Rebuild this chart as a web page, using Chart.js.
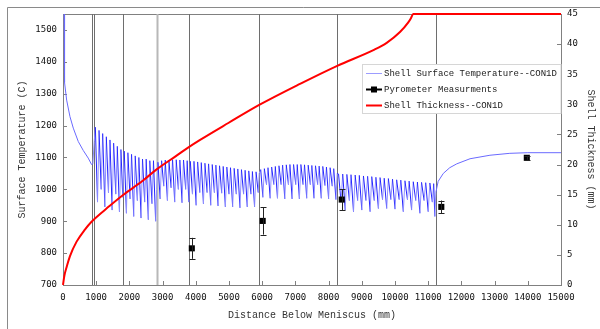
<!DOCTYPE html>
<html>
<head>
<meta charset="utf-8">
<script src="https://cdn.jsdelivr.net/npm/chart.js@4.4.1/dist/chart.umd.min.js"></script>
<style>
  html, body { margin: 0; padding: 0; background: #fff; }
  #wrap { position: relative; width: 600px; height: 329px; }
</style>
</head>
<body>
<div id="wrap"><canvas id="c" width="600" height="329"></canvas></div>
<script>
// ---- data ----
var xTicks = [0, 1000, 2000, 3000, 4000, 5000, 6000, 7000, 8000, 9000, 10000, 11000, 12000, 13000, 14000, 15000];
var tempTicks = [700, 800, 900, 1000, 1100, 1200, 1300, 1400, 1500];
var thickTicks = [0, 5, 10, 15, 20, 25, 30, 35, 40, 45];

// spray zone / roll segment boundaries (mm)
var zoneLines = [860, 940, 1800, 2820, 3790, 5910, 8260, 11230];

// shell surface temperature (CON1D)
var surfDist = [
  35, 38, 44, 58, 110, 210, 310, 460, 610, 760, 860, 900,
  940, 975, 1040, 1085, 1150, 1195, 1260, 1305, 1370, 1415, 1480, 1525, 1590, 1635, 1700, 1745, 1800,
  1845, 1910, 1955, 2020, 2065, 2130, 2175, 2240, 2285, 2350, 2395, 2460, 2505, 2570, 2615, 2680, 2725, 2790, 2820,
  2860, 2925, 2970, 3035, 3080, 3145, 3190, 3255, 3300, 3365, 3410, 3475, 3520, 3585, 3630, 3695, 3740, 3790,
  3835, 3900, 3945, 4010, 4055, 4120, 4165, 4230, 4275, 4340, 4385, 4450, 4495, 4560, 4605, 4670, 4715, 4780,
  4825, 4890, 4935, 5000, 5045, 5110, 5155, 5220, 5265, 5330, 5375, 5440, 5485, 5550, 5595, 5660, 5705, 5770,
  5815, 5880, 5910,
  5955, 6020, 6065, 6130, 6175, 6240, 6285, 6350, 6395, 6460, 6505, 6570, 6615, 6680, 6725, 6790, 6835, 6900,
  6945, 7010, 7055, 7120, 7165, 7230, 7275, 7340, 7385, 7450, 7495, 7560, 7605, 7670, 7715, 7780, 7825, 7890,
  7935, 8000, 8045, 8110, 8155, 8220, 8260,
  8300, 8375, 8425, 8500, 8550, 8625, 8675, 8750, 8800, 8875, 8925, 9000, 9050, 9125, 9175, 9250, 9300, 9375,
  9425, 9500, 9550, 9625, 9675, 9750, 9800, 9875, 9925, 10000, 10050, 10125, 10175, 10250, 10300, 10375,
  10425, 10500, 10550, 10625, 10675, 10750, 10800, 10875, 10925, 11000, 11050, 11125, 11165, 11200, 11230,
  11300, 11455, 11650, 11860, 12260, 12860, 13460, 14000, 15000
];
var surfTemp = [
  1550, 1450, 1380, 1335, 1280, 1228, 1192, 1150, 1122, 1098, 1078, 1080,
  1150, 1195, 960, 1185, 1000, 1175, 945, 1165, 990, 1155, 935, 1145, 985, 1135, 930, 1125, 975,
  1120, 925, 1115, 970, 1110, 915, 1105, 965, 1100, 910, 1095, 960, 1095, 905, 1090, 955, 1090, 900, 1000,
  1085, 970, 1090, 1010, 1092, 965, 1092, 1005, 1093, 960, 1093, 1000, 1092, 958, 1092, 1000, 1090, 960,
  1088, 985, 1088, 950, 1086, 990, 1084, 955, 1082, 990, 1080, 950, 1078, 990, 1076, 948, 1074, 988,
  1072, 945, 1070, 985, 1068, 945, 1066, 985, 1064, 942, 1062, 985, 1060, 945, 1058, 985, 1056, 945,
  1055, 990, 1050,
  1062, 975, 1065, 1015, 1068, 972, 1070, 1015, 1072, 972, 1074, 1015, 1076, 970, 1077, 1015, 1078, 970,
  1078, 1015, 1078, 970, 1078, 1015, 1077, 972, 1076, 1015, 1075, 972, 1074, 1015, 1073, 972, 1072, 1012,
  1070, 970, 1068, 1010, 1065, 968, 1050,
  1048, 960, 1048, 935, 1047, 965, 1046, 930, 1045, 965, 1044, 935, 1042, 965, 1041, 930, 1040, 965,
  1038, 940, 1037, 968, 1035, 940, 1034, 968, 1032, 938, 1030, 968, 1029, 930, 1027, 968,
  1026, 935, 1024, 965, 1023, 925, 1022, 965, 1021, 930, 1020, 960, 1018, 915, 990,
  1025, 1050, 1068, 1080, 1096, 1107, 1113, 1115, 1115
];

// shell thickness (CON1D)
var shellDist  = [0, 10, 40, 110, 210, 410, 660, 860, 1400, 1800, 2400, 2820, 3400, 3790, 4130, 4980, 5910, 7140, 8260, 9350, 9750, 10150, 10400, 10480, 10550, 15000];
var shellThick = [0, 0.4, 1.5, 3.0, 4.8, 7.2, 9.2, 10.5, 13.1, 14.9, 17.3, 19.2, 21.4, 22.9, 24.1, 26.9, 29.9, 33.4, 36.4, 39.0, 40.2, 42.0, 43.6, 44.3, 45, 45];

// pyrometer measurements with error half-range
var pyroDist = [3880, 6015, 8395, 11395, 13970];
var pyroTemp = [815, 901, 968, 945, 1099];
var pyroErr  = [33, 43, 33, 20, 6];

function pairs(xs, ys) {
  return xs.map(function (x, i) { return { x: x, y: ys[i] }; });
}

var MONO = "'Liberation Mono', 'DejaVu Sans Mono', monospace";
var TICKFONT = "'DejaVu Sans Mono', monospace";
var AXIS_GRAY = "#808080";

/* frame, zone lines, inward tick marks, error bars, legend */
var decorPlugin = {
  id: "decor",
  beforeDatasetsDraw: function (chart) {
    var ctx = chart.ctx, a = chart.chartArea;
    var sx = chart.scales.x, sy = chart.scales.y, sy2 = chart.scales.y2;
    ctx.save();
    // outer frame (top + left only)
    ctx.strokeStyle = "#8a8a8a";
    ctx.lineWidth = 1;
    ctx.beginPath();
    ctx.moveTo(7.5, 329); ctx.lineTo(7.5, 7.5); ctx.lineTo(600, 7.5);
    ctx.stroke();
    // plot box
    ctx.strokeStyle = AXIS_GRAY;
    ctx.strokeRect(Math.round(a.left) + 0.5, Math.round(a.top) + 0.5,
      Math.round(a.right - a.left), Math.round(a.bottom - a.top));
    // inward ticks
    ctx.beginPath();
    xTicks.forEach(function (v) {
      var px = Math.round(sx.getPixelForValue(v)) + 0.5;
      ctx.moveTo(px, a.bottom); ctx.lineTo(px, a.bottom - 4);
    });
    tempTicks.forEach(function (v) {
      var py = Math.round(sy.getPixelForValue(v)) + 0.5;
      ctx.moveTo(a.left, py); ctx.lineTo(a.left + 4, py);
    });
    thickTicks.forEach(function (v) {
      var py = Math.round(sy2.getPixelForValue(v)) + 0.5;
      ctx.moveTo(a.right, py); ctx.lineTo(a.right - 4, py);
    });
    ctx.stroke();
    // zone boundaries
    zoneLines.forEach(function (d, i) {
      var px = Math.round(sx.getPixelForValue(d)) + 0.5;
      ctx.strokeStyle = i === 3 ? "#b8b8b8" : "#6e6e6e";
      ctx.lineWidth = i === 3 ? 2 : 1;
      ctx.beginPath();
      ctx.moveTo(px, a.top); ctx.lineTo(px, a.bottom);
      ctx.stroke();
    });
    ctx.restore();
  },
  afterDatasetsDraw: function (chart) {
    var ctx = chart.ctx, a = chart.chartArea;
    var sx = chart.scales.x, sy = chart.scales.y;
    ctx.save();
    // error bars
    ctx.strokeStyle = "#222";
    ctx.lineWidth = 1;
    ctx.beginPath();
    pyroDist.forEach(function (d, i) {
      var px = Math.round(sx.getPixelForValue(d)) + 0.5;
      var top = sy.getPixelForValue(pyroTemp[i] + pyroErr[i]);
      var bot = sy.getPixelForValue(pyroTemp[i] - pyroErr[i]);
      ctx.moveTo(px, top); ctx.lineTo(px, bot);
      ctx.moveTo(px - 3, Math.round(top) + 0.5); ctx.lineTo(px + 3, Math.round(top) + 0.5);
      ctx.moveTo(px - 3, Math.round(bot) + 0.5); ctx.lineTo(px + 3, Math.round(bot) + 0.5);
    });
    ctx.stroke();

    // legend
    var bx = 362.5, by = 64.5, bw = a.right - 362.5, bh = 49;
    ctx.fillStyle = "#fff";
    ctx.fillRect(bx, by, bw, bh);
    ctx.strokeStyle = "#d6d6d6";
    ctx.strokeRect(bx, by, bw, bh);
    ctx.font = "9px " + MONO;
    ctx.textBaseline = "middle";
    ctx.textAlign = "left";
    var rows = [73.5, 89.5, 105.5];
    chart.data.datasets.forEach(function (ds, i) {
      var y = rows[i];
      ctx.strokeStyle = ds.legendColor;
      ctx.lineWidth = ds.legendWidth;
      ctx.beginPath();
      ctx.moveTo(366, y); ctx.lineTo(382, y);
      ctx.stroke();
      if (ds.showLine === false) {
        ctx.fillStyle = "#000";
        ctx.fillRect(371, y - 3, 6, 6);
      }
      ctx.fillStyle = "#222";
      ctx.fillText(ds.label, 384, y + 0.5);
    });
    ctx.restore();
  }
};

new Chart(document.getElementById("c"), {
  type: "line",
  data: {
    datasets: [
      {
        label: "Shell Surface Temperature--CON1D",
        data: pairs(surfDist, surfTemp),
        yAxisID: "y",
        borderColor: "#6262ff",
        borderWidth: 1,
        pointRadius: 0,
        tension: 0,
        // falling strokes of the roll/spray oscillation print darker than the rising ones
        segment: {
          borderColor: function (c) {
            if (c.p0.parsed.x < 900 || c.p0.parsed.x >= 11230) return "#6a6aff";
            return c.p1.parsed.y < c.p0.parsed.y ? "#2424ff" : "#9090ff";
          }
        },
        order: 3,
        legendColor: "#9c9cff",
        legendWidth: 1
      },
      {
        label: "Pyrometer Measurments",
        data: pairs(pyroDist, pyroTemp),
        yAxisID: "y",
        showLine: false,
        pointStyle: "rect",
        pointRadius: 4.3,
        pointBackgroundColor: "#000",
        pointBorderColor: "#000",
        pointBorderWidth: 0,
        order: 1,
        legendColor: "#000",
        legendWidth: 2
      },
      {
        label: "Shell Thickness--CON1D",
        data: pairs(shellDist, shellThick),
        yAxisID: "y2",
        borderColor: "#ff0000",
        borderWidth: 2,
        pointRadius: 0,
        cubicInterpolationMode: "monotone",
        clip: 3,
        order: 2,
        legendColor: "#ff0000",
        legendWidth: 2
      }
    ]
  },
  options: {
    responsive: false,
    animation: false,
    devicePixelRatio: 1,
    layout: { padding: { top: 14, left: 0, right: 0, bottom: 0 } },
    plugins: { legend: { display: false }, tooltip: { enabled: false } },
    scales: {
      x: {
        type: "linear",
        min: 0, max: 15000,
        afterBuildTicks: function (s) { s.ticks = xTicks.map(function (v) { return { value: v }; }); },
        afterFit: function (s) { s.height = 44; },
        grid: { display: false, drawTicks: false },
        border: { display: false },
        ticks: {
          padding: 7, color: "#111", maxRotation: 0, autoSkip: false,
          font: { family: TICKFONT, size: 9 },
          callback: function (v) { return String(v); }
        },
        title: {
          display: true, text: "Distance Below Meniscus (mm)", color: "#333",
          font: { family: MONO, size: 10 }, padding: { top: 0, bottom: 8 }
        }
      },
      y: {
        position: "left",
        min: 700, max: 1550,
        afterBuildTicks: function (s) { s.ticks = tempTicks.map(function (v) { return { value: v }; }); },
        afterFit: function (s) { s.width = 63; },
        grid: { display: false, drawTicks: false },
        border: { display: false },
        ticks: {
          padding: 6, color: "#111", font: { family: TICKFONT, size: 9 },
          callback: function (v) { return String(v); }
        },
        title: {
          display: true, text: "Surface Temperature (C)", color: "#333",
          font: { family: MONO, size: 10 }, padding: { top: 16, bottom: 0 }
        }
      },
      y2: {
        position: "right",
        min: 0, max: 45,
        afterBuildTicks: function (s) { s.ticks = thickTicks.map(function (v) { return { value: v }; }); },
        afterFit: function (s) { s.width = 39; },
        grid: { display: false, drawTicks: false },
        border: { display: false },
        ticks: {
          padding: 6, color: "#111", font: { family: TICKFONT, size: 9 },
          callback: function (v) { return String(v); }
        },
        title: {
          display: true, text: "Shell Thickness (mm)", color: "#333",
          font: { family: MONO, size: 10 }, padding: { top: 3, bottom: 0 }
        }
      }
    }
  },
  plugins: [decorPlugin]
});
</script>
</body>
</html>
